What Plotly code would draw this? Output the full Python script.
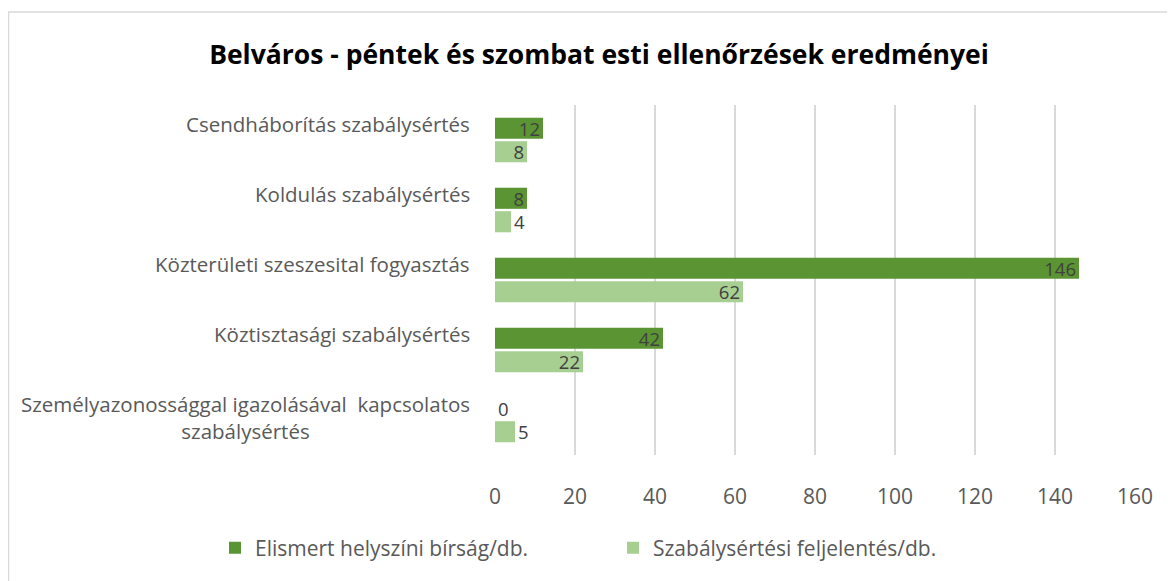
import plotly.graph_objects as go

categories = [
    "Csendháborítás szabálysértés",
    "Koldulás szabálysértés",
    "Közterületi szeszesital fogyasztás",
    "Köztisztasági szabálysértés",
    "Személyazonossággal igazolásával  kapcsolatos<br>szabálysértés",
]
series_names = ["Elismert helyszíni bírság/db.", "Szabálysértési feljelentés/db."]
birsag = [12, 8, 146, 42, 0]
feljelentes = [8, 4, 62, 22, 5]
x_ticks = [0, 20, 40, 60, 80, 100, 120, 140, 160]

# page body has an 8px margin: figure origin sits at (8, 8) in the window
OX, OY = 8, 8
W, H = 1175, 581
L = 495 - OX
T = 105 - OY
R = W - (1135 - OX)
B = H - (455 - OY)
pw, ph = W - L - R, H - T - B

def tpos(vals):
    return ["inside" if v >= 8 else "outside" for v in vals]

label_font = dict(family="Open Sans", size=18.5, color="#404040")

fig = go.Figure()
fig.add_trace(go.Bar(
    y=categories, x=birsag, name=series_names[0], orientation="h",
    marker=dict(color="#5b9533", line=dict(width=0)),
    text=[str(v) for v in birsag], textposition=tpos(birsag),
    insidetextanchor="end", textangle=0, constraintext="none", cliponaxis=False,
    textfont=label_font,
))
fig.add_trace(go.Bar(
    y=categories, x=feljelentes, name=series_names[1], orientation="h",
    marker=dict(color="#a8cf92", line=dict(width=0)),
    text=[str(v) for v in feljelentes], textposition=tpos(feljelentes),
    insidetextanchor="end", textangle=0, constraintext="none", cliponaxis=False,
    textfont=label_font,
))

annotations = []
for c in categories:
    nlines = c.count("<br>") + 1
    annotations.append(dict(
        x=-23 / pw, xref="paper", y=c, yref="y", text=c, showarrow=False,
        xanchor="right", yanchor="middle", align="center",
        yshift=16 - 13 * (nlines - 1),
        font=dict(family="Open Sans", size=20.5, color="#595959"),
    ))

def px(xw):  # window x -> paper
    return (xw - OX - L) / pw

def py(yw):  # window y -> paper
    return (H - B - (yw - OY)) / ph

shapes = [
    dict(type="line", xref="paper", yref="paper",
         x0=px(8), x1=px(W + 20), y0=py(12), y1=py(12),
         line=dict(color="#d9d9d9", width=1.5)),
    dict(type="line", xref="paper", yref="paper",
         x0=px(8.5), x1=px(8.5), y0=py(12), y1=py(H + 20),
         line=dict(color="#d9d9d9", width=1.5)),
]

fig.update_layout(
    width=W, height=H,
    margin=dict(l=L, r=R, t=T, b=B),
    paper_bgcolor="white", plot_bgcolor="white",
    title=dict(text="<b>Belváros - péntek és szombat esti ellenőrzések eredményei</b>",
               x=(599 - OX) / W, xanchor="center", y=1 - (55 - OY) / H, yanchor="middle",
               font=dict(family="Open Sans", size=26.5, color="black")),
    barmode="group", bargap=0.33, bargroupgap=0.1,
    xaxis=dict(range=[0, 160], tickvals=x_ticks, showgrid=True,
               gridcolor="#d9d9d9", gridwidth=1.5, zeroline=False,
               showline=False, ticks="", ticklabelstandoff=27,
               tickfont=dict(family="Open Sans", size=21, color="#595959")),
    yaxis=dict(autorange="reversed", showticklabels=False, showgrid=False,
               zeroline=False, showline=False, ticks=""),
    legend=dict(orientation="h",
                x=px(215), xanchor="left",
                y=py(548), yanchor="middle",
                entrywidth=353, entrywidthmode="pixels",
                font=dict(family="Open Sans", size=21, color="#595959"),
                traceorder="normal"),
    annotations=annotations,
    shapes=shapes,
    showlegend=True,
)

fig.write_html("out.html")
